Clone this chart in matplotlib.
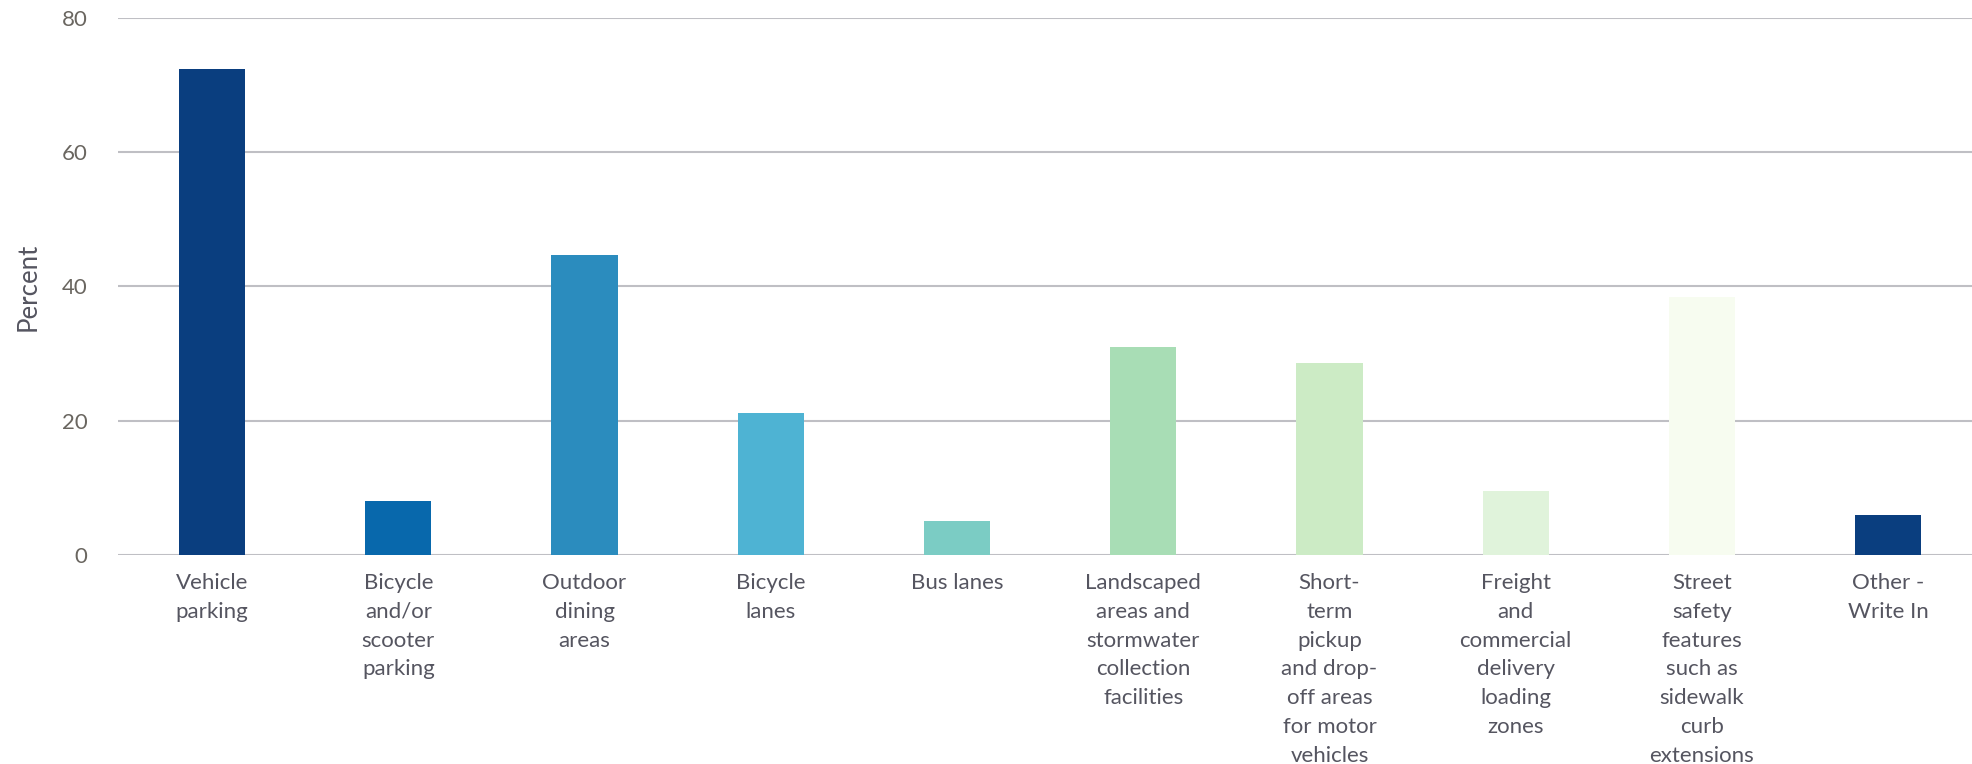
import numpy as np
import matplotlib
matplotlib.use("Agg")
from matplotlib import pyplot as plt

# Survey answers and share of respondents (percent)
categories = [
    "Vehicle\nparking",
    "Bicycle\nand/or\nscooter\nparking",
    "Outdoor\ndining\nareas",
    "Bicycle\nlanes",
    "Bus lanes",
    "Landscaped\nareas and\nstormwater\ncollection\nfacilities",
    "Short-\nterm\npickup\nand drop-\noff areas\nfor motor\nvehicles",
    "Freight\nand\ncommercial\ndelivery\nloading\nzones",
    "Street\nsafety\nfeatures\nsuch as\nsidewalk\ncurb\nextensions",
    "Other -\nWrite In",
]
percent = [72.3, 8.0, 44.7, 21.1, 5.1, 31.0, 28.6, 9.5, 38.4, 6.0]
colors = ["#0a3e7f", "#0868ac", "#2b8cbe", "#4eb3d3", "#7bccc4",
          "#a8ddb5", "#ccebc5", "#e0f3db", "#f7fcf0", "#0a3e7f"]
y_ticks = [0, 20, 40, 60, 80]

plt.rcParams['font.family'] = ['Lato', 'DejaVu Sans']

fig = plt.figure(figsize=(19.72, 7.64), dpi=100)
ax = fig.add_axes([118 / 1972, 209 / 764, 1 - 118 / 1972, (555 - 17.6) / 764])

x = np.arange(len(categories))
ax.bar(x, percent, width=0.355, color=colors, zorder=3)

ax.set_ylim(0, 80)
ax.set_xlim(-0.505, 9.45)
ax.set_yticks(y_ticks)
ax.yaxis.grid(True, color="#bfbfc4", linewidth=1.5, zorder=0)
for s in ax.spines.values():
    s.set_visible(False)

ax.set_xticks(x)
ax.set_xticklabels(categories, fontsize=16, color="#555560", linespacing=1.55,
                   va="top", multialignment="center")
ax.tick_params(axis="x", length=0, pad=13)
ax.tick_params(axis="y", length=0, pad=22, labelsize=16, labelcolor="#6a6660")

fig.text(28 / 1972, 1 - 287 / 764, "Percent", rotation=90, ha="center", va="center",
         fontsize=18.5, color="#555560")

fig.savefig("out.png", dpi=100)
